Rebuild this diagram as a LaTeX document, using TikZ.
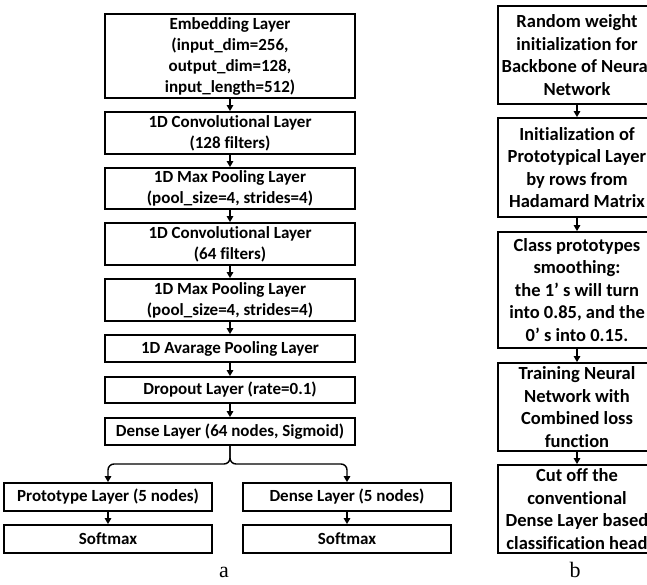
\documentclass[tikz,border=0pt]{standalone}
\usepackage{fontspec}
\setmainfont{Carlito}[Ligatures=NoCommon]
\newfontfamily\labfont{Liberation Serif}
\usetikzlibrary{arrows.meta}
\begin{document}
\begin{tikzpicture}[x=1pt,y=-1pt,
  box/.style={draw=black,line width=1.8pt,rectangle,inner sep=0pt,align=center,
    font=\fontsize{17}{21}\selectfont\bfseries},
  rbox/.style={box,font=\fontsize{18.5}{22.5}\selectfont\bfseries,minimum width=158pt},
  lbox/.style={box,minimum width=250pt},
  arr/.style={line width=1.4pt,-{Triangle[length=6pt,width=6.5pt]}},
  lab/.style={font=\labfont\fontsize{22}{24}\selectfont}]
\useasboundingbox (0,0) rectangle (647,585);
% left column
\node[lbox,minimum height=84pt] (emb) at (230,56) {Embedding Layer\\(input\_dim=256,\\output\_dim=128,\\input\_length=512)};
\node[lbox,minimum height=42pt] (conv1) at (230,133) {1D Convolutional Layer\\(128 filters)};
\node[lbox,minimum height=41pt] (mp1) at (230,188.5) {1D Max Pooling Layer\\(pool\_size=4, strides=4)};
\node[lbox,minimum height=42pt] (conv2) at (230,244) {1D Convolutional Layer\\(64 filters)};
\node[lbox,minimum height=42pt] (mp2) at (230,300) {1D Max Pooling Layer\\(pool\_size=4, strides=4)};
\node[lbox,minimum height=27pt] (avg) at (230,348.5) {1D Avarage Pooling Layer};
\node[lbox,minimum height=26pt] (drop) at (230,390) {Dropout Layer (rate=0.1)};
\node[lbox,minimum height=27pt] (d64) at (230,431.5) {Dense Layer (64 nodes, Sigmoid)};
\node[box,minimum width=208pt,minimum height=28pt] (proto) at (108,497) {Prototype Layer (5 nodes)};
\node[box,minimum width=208pt,minimum height=28pt] (smL) at (108,539) {Softmax};
\node[box,minimum width=208pt,minimum height=28pt] (d5) at (347,497) {Dense Layer (5 nodes)};
\node[box,minimum width=208pt,minimum height=28pt] (smR) at (347,539) {Softmax};
\draw[arr] (emb) -- (conv1);
\draw[arr] (conv1) -- (mp1);
\draw[arr] (mp1) -- (conv2);
\draw[arr] (conv2) -- (mp2);
\draw[arr] (mp2) -- (avg);
\draw[arr] (avg) -- (drop);
\draw[arr] (drop) -- (d64);
\coordinate (br) at (230,464);
\draw[arr,rounded corners=6pt] (d64.south) -- (br) -- (proto.north |- br) -- (proto.north);
\draw[arr,rounded corners=6pt] (d64.south) -- (br) -- (d5.north |- br) -- (d5.north);
\draw[arr] (proto) -- (smL);
\draw[arr] (d5) -- (smR);
\node[lab] (la) at (224,572) {a};
% right column
\node[rbox,minimum height=98pt] (r1) at (577,55) {Random weight\\initialization for\\Backbone of Neural\\Network};
\node[rbox,minimum height=99pt] (r2) at (577,167.5) {Initialization of\\Prototypical Layer\\by rows from\\Hadamard Matrix};
\node[rbox,minimum height=116pt] (r3) at (577,290) {Class prototypes\\smoothing:\\the 1’ s will turn\\into 0.85, and the\\0’ s into 0.15.};
\node[rbox,minimum height=88pt] (r4) at (577,407) {Training Neural\\Network with\\Combined loss\\function};
\node[rbox,minimum height=88pt] (r5) at (577,509) {Cut off the\\conventional\\Dense Layer based\\classification head};
\draw[arr] (r1) -- (r2);
\draw[arr] (r2) -- (r3);
\draw[arr] (r3) -- (r4);
\draw[arr] (r4) -- (r5);
\node[lab] (lb) at (575,570) {b};
\end{tikzpicture}
\end{document}
